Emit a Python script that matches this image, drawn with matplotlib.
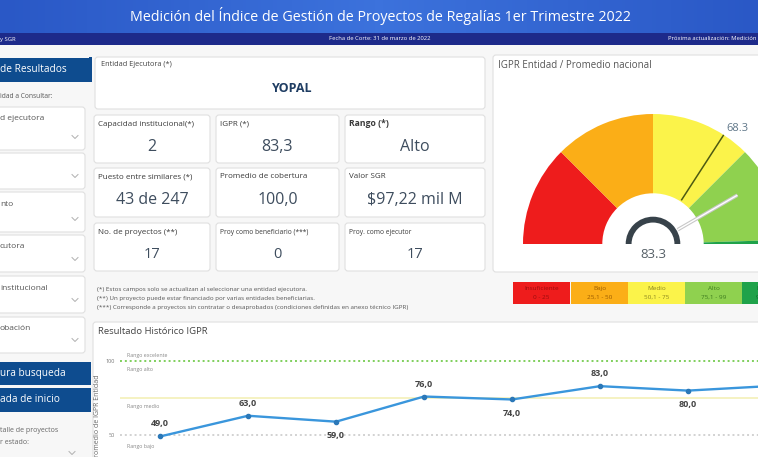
import matplotlib.pyplot as plt
from matplotlib.patches import FancyBboxPatch, Rectangle, Wedge
import numpy as np

plt.rcParams['font.family'] = ['Open Sans', 'DejaVu Sans']

# ---- datos ----
titulo = "Medición del Índice de Gestión de Proyectos de Regalías 1er Trimestre 2022"
fecha_corte = "Fecha de Corte: 31 de marzo de 2022"
prox_act = "Próxima actualización: Medición 2do Trimestre 2022"
entidad = "YOPAL"
kpi_labels = [["Capacidad institucional(*)", "IGPR (*)", "Rango (*)"],
              ["Puesto entre similares (*)", "Promedio de cobertura", "Valor SGR"],
              ["No. de proyectos (**)", "Proy como beneficiario (***)", "Proy. como ejecutor"]]
kpi_values = [["2", "83,3", "Alto"],
              ["43 de 247", "100,0", "$97,22 mil M"],
              ["17", "0", "17"]]
igpr_entidad = 83.3
igpr_nacional = 68.3
rangos = ["Insuficiente", "Bajo", "Medio", "Alto", "Excelente"]
rangos_txt = ["0 - 25", "25,1 - 50", "50,1 - 75", "75,1 - 99", "99,1 - 100"]
rangos_lim = [0, 25, 50, 75, 99, 100]
hist_vals = [49.0, 63.0, 59.0, 76.0, 74.0, 83.0, 80.0, 83.3]
hist_lado = ['top', 'top', 'bottom', 'top', 'bottom', 'top', 'bottom', 'top']
notas = ["(*) Estos campos solo se actualizan al seleccionar una entidad ejecutora.",
         "(**) Un proyecto puede estar financiado por varias entidades beneficiarias.",
         "(***) Corresponde a proyectos sin contratar o desaprobados (condiciones definidas en anexo técnico IGPR)"]

colores_rango = ['#ee1c1c', '#fbae17', '#fbf34a', '#8fd14f', '#1fa24a']
texto_rango = ['#9a0d0d', '#9a5a00', '#8a8420', '#3d7a1e', '#0c5a25']

W, H = 758, 457
fig = plt.figure(figsize=(W / 100, H / 100), dpi=100)
fig.patch.set_facecolor('#f7f7f7')
ax = fig.add_axes([0, 0, 1, 1])
ax.set_xlim(0, W)
ax.set_ylim(H, 0)
ax.axis('off')


def card(x0, y0, x1, y1, fc='white', ec='#e0e0e0', r=3, lw=0.8):
    ax.add_patch(FancyBboxPatch((x0, y0), x1 - x0, y1 - y0,
                                boxstyle=f"round,pad=0,rounding_size={r}",
                                fc=fc, ec=ec, lw=lw))


def chevron(x, y):
    ax.plot([x - 3, x, x + 3], [y - 1.5, y + 1.5, y - 1.5], color='#b0b0b0', lw=0.7)


# ---- encabezado ----
grad = np.abs(np.linspace(-1, 1, 200))[None, :]
ax.imshow(grad, extent=(0, W, 33, 0), cmap=plt.matplotlib.colors.LinearSegmentedColormap.from_list(
    'hdr', ['#3c72dc', '#2a58c6']), aspect='auto', zorder=0)
ax.set_xlim(0, W)
ax.set_ylim(H, 0)
ax.add_patch(Rectangle((0, 33), W, 12, fc='#1d2a8a', ec='none'))
ax.text(380, 16, titulo, color='white', fontsize=10.3, ha='center', va='center')
ax.text(0, 39, "y SGR", color='white', fontsize=4.2, ha='left', va='center')
ax.text(380, 39, fecha_corte, color='white', fontsize=4.2, ha='center', va='center')
ax.text(668, 39, prox_act, color='white', fontsize=4.2, ha='left', va='center')

# ---- barra lateral ----
ax.add_patch(Rectangle((-5, 58), 96, 24, fc='#0e4c8f', ec='none'))
ax.text(0, 70, "de Resultados", color='white', fontsize=7.3, ha='left', va='center')
ax.text(0, 97, "idad a Consultar:", color='#555555', fontsize=4.8, ha='left', va='center')
filtros = [(107, 150, "d ejecutora"), (153, 189, ""), (192, 232, "nto"),
           (235, 272, "cutora"), (276, 313, "institucional"), (317, 353, "obación")]
for y0, y1, t in filtros:
    card(-5, y0, 85, y1)
    ax.text(0, y0 + 12, t, color='#555555', fontsize=6, ha='left', va='center')
    chevron(75, y1 - 13)
ax.add_patch(Rectangle((-5, 362), 96, 23, fc='#0e4c8f', ec='none'))
ax.text(0, 373.5, "ura busqueda", color='white', fontsize=7.3, ha='left', va='center')
ax.add_patch(Rectangle((-5, 388), 96, 24, fc='#0e4c8f', ec='none'))
ax.text(0, 400, "ada de inicio", color='white', fontsize=7.3, ha='left', va='center')
ax.text(0, 431, "talle de proyectos", color='#666666', fontsize=5, ha='left', va='center')
ax.text(0, 442, "r estado:", color='#666666', fontsize=5, ha='left', va='center')
chevron(72, 453)

# ---- tarjetas KPI ----
card(95, 57, 485, 109)
ax.add_patch(Rectangle((89, 57), 2.5, 25, fc='#0e4c8f', ec='none'))
ax.text(101, 64, "Entidad Ejecutora (*)", color='#444444', fontsize=5.3, ha='left', va='center')
ax.text(292, 88, entidad, color='#1f3d63', fontsize=9, fontweight='bold', ha='center', va='center')

cols = [(94, 210), (216, 339), (345, 485)]
rows = [(115, 163), (168, 217), (223, 271)]
lab_fs = [[5.8, 5.8, 6.2], [5.8, 5.8, 5.8], [5.8, 4.8, 4.8]]
val_fs = [11.5, 11.5, 10.5]
for i, (r0, r1) in enumerate(rows):
    for j, (c0, c1) in enumerate(cols):
        card(c0, r0, c1, r1)
        bold = 'bold' if kpi_labels[i][j].startswith('Rango') else 'normal'
        ax.text(c0 + 4, r0 + 9, kpi_labels[i][j], color='#3a3a3a', fontsize=lab_fs[i][j],
                fontweight=bold, ha='left', va='center')
        ax.text((c0 + c1) / 2, r0 + 32, kpi_values[i][j], color='#3e4d5e',
                fontsize=val_fs[i], ha='center', va='center')

# ---- notas ----
for k, t in enumerate(notas):
    ax.text(97, 289 + k * 9.2, t, color='#555555', fontsize=4.5, ha='left', va='center')

# ---- tarjeta velocimetro ----
card(493, 55, 775, 272)
ax.text(498, 66, "IGPR Entidad / Promedio nacional", color='#555555', fontsize=7, ha='left', va='center')

cx, cy, R = 653, 244, 130
gax = fig.add_axes([(cx - R) / W, (H - cy - R) / H, 2 * R / W, 2 * R / H])
tramos = list(np.diff(rangos_lim)) + [100]
gax.pie(tramos, colors=colores_rango + ['none'], startangle=180, counterclock=False,
        radius=1, wedgeprops=dict(width=0.61, linewidth=0))
gax.set_xlim(-1, 1)
gax.set_ylim(-1, 1)
gax.patch.set_alpha(0)

a_nac = np.radians(180 - 1.8 * igpr_nacional)
gax.plot([0.4 * np.cos(a_nac), 1.0 * np.cos(a_nac)], [0.4 * np.sin(a_nac), 1.0 * np.sin(a_nac)],
         color='#4d5a12', lw=1.1, solid_capstyle='butt')
gax.text(1.02 * np.cos(a_nac) + 0.01, 1.02 * np.sin(a_nac) - 0.01, f"{igpr_nacional:.1f}",
         color='#5f7688', fontsize=8, ha='left', va='bottom')

a_ent = np.radians(180 - 1.8 * igpr_entidad)
xs = [0.22 * np.cos(a_ent), 0.75 * np.cos(a_ent)]
ys = [0.22 * np.sin(a_ent), 0.75 * np.sin(a_ent)]
gax.plot(xs, ys, color='#c8c8c8', lw=2.6, solid_capstyle='butt')
gax.plot(xs, ys, color='white', lw=1.0, solid_capstyle='butt')
gax.add_patch(Wedge((0, 0), 0.21, 0, 180, width=0.045, fc='#37424a', ec='none'))
gax.text(0, -0.08, f"{igpr_entidad:.1f}", color='#555f66', fontsize=9.5, ha='center', va='center')

# ---- leyenda de rangos ----
x_ley = [513, 571, 628, 685, 742]
for k in range(len(rangos)):
    ax.add_patch(Rectangle((x_ley[k], 282), 57, 22, fc=colores_rango[k], ec='none'))
    ax.text(x_ley[k] + 28.5, 288.5, rangos[k], color=texto_rango[k], fontsize=4.6, ha='center', va='center')
    ax.text(x_ley[k] + 28.5, 297.5, rangos_txt[k], color=texto_rango[k], fontsize=4.6, ha='center', va='center')

# ---- historico ----
card(93, 322, 780, 470)
ax.text(98, 332, "Resultado Histórico IGPR", color='#444444', fontsize=6.8, ha='left', va='center')

px_per = 74 / 50
lx0, lx1, ly0, ly1 = 120, 758, 345, 490
hax = fig.add_axes([lx0 / W, (H - ly1) / H, (lx1 - lx0) / W, (ly1 - ly0) / H])
hax.patch.set_alpha(0)
hax.set_xlim((lx0 - 160) / 88, (lx1 - 160) / 88)
hax.set_ylim(100 - (ly1 - 361) / px_per, 100 + (361 - ly0) / px_per)
for s in hax.spines.values():
    s.set_visible(False)
hax.set_xticks([])
hax.set_yticks([50, 100])
hax.tick_params(axis='y', length=0, labelsize=4, labelcolor='#777777', pad=4)
hax.set_ylabel("Promedio de IGPR Entidad", fontsize=5, color='#666666', labelpad=3)

hax.axhline(100, color='#7fcf5c', lw=1.4, ls=(0, (1, 1.5)))
hax.axhline(75, color='#f4f0b8', lw=1.2)
hax.axhline(50, color='#d2d2d2', lw=1.4, ls=(0, (1, 1.5)))
for yv, t in [(104, "Rango excelente"), (94.5, "Rango alto"), (69, "Rango medio"), (42.5, "Rango bajo")]:
    hax.text(-0.375, yv, t, color='#888888', fontsize=3.8, ha='left', va='center')

xi = np.arange(len(hist_vals))
hax.plot(xi, hist_vals, color='#3a96dc', lw=1.7, marker='o', ms=3,
         mfc='#2b78b8', mec='#2b78b8', clip_on=True)
for x, v, lado in zip(xi, hist_vals, hist_lado):
    off = 9 if lado == 'top' else -10
    hax.annotate(f"{v:.1f}".replace('.', ','), (x, v), xytext=(0, off), textcoords='offset points',
                 ha='center', va='center', fontsize=6.5, color='#444444', fontweight='bold')

fig.savefig('out.png', dpi=100)
